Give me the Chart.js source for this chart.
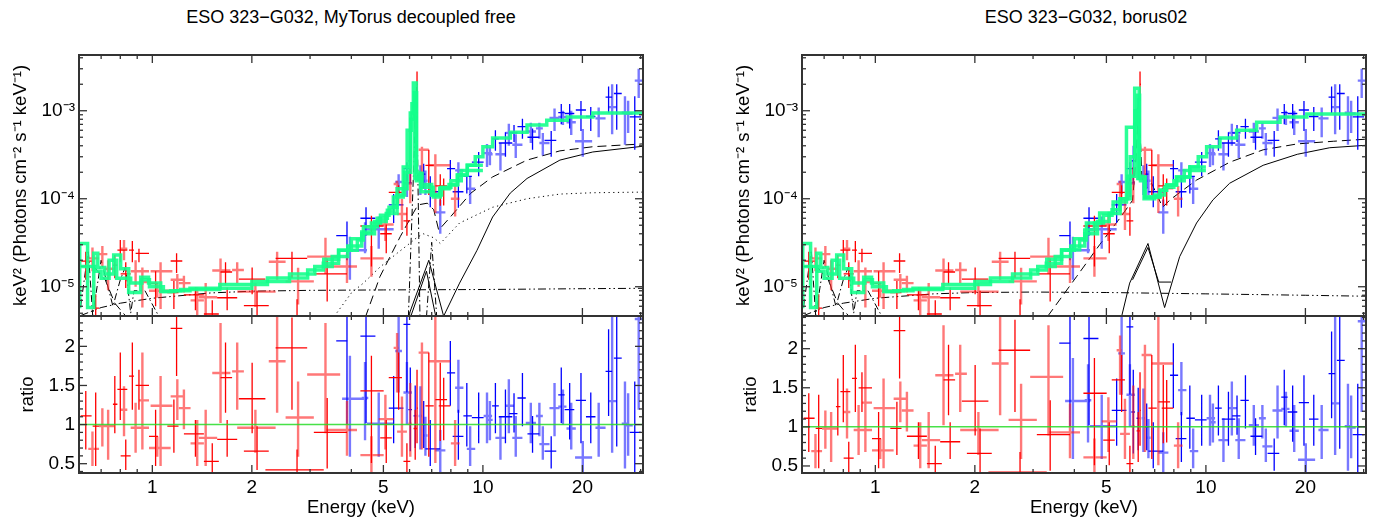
<!DOCTYPE html>
<html><head><meta charset="utf-8">
<script src="https://cdn.jsdelivr.net/npm/chart.js@4.4.1/dist/chart.umd.min.js"></script>
<style>
body{margin:0;background:#fff;width:1376px;height:527px;overflow:hidden;position:relative;font-family:"Liberation Sans",Arial,Helvetica,sans-serif}
canvas{position:absolute}
.title{position:absolute;top:7px;font-size:18px;white-space:nowrap;transform:translateX(-50%);color:#000}
</style></head><body>
<div class="title" style="left:351px">ESO 323−G032, MyTorus decoupled free</div>
<div class="title" style="left:1086px">ESO 323−G032, borus02</div>
<canvas id="c1" width="653" height="320" style="left:0;top:0"></canvas>
<canvas id="c2" width="653" height="215" style="left:0;top:312px"></canvas>
<canvas id="c3" width="653" height="320" style="left:723px;top:0"></canvas>
<canvas id="c4" width="653" height="215" style="left:723px;top:312px"></canvas>
<script>
// ---------- tick values / labels ----------
const energyTicks = [1, 2, 5, 10, 20];
const energyTickLabels = ['1', '2', '5', '10', '20'];
const energyMinor = [0.6, 0.7, 0.8, 0.9, 3, 4, 6, 7, 8, 9, 30];
const fluxTicks = [1e-5, 1e-4, 1e-3];
const fluxTickLabels = ['10⁻⁵', '10⁻⁴', '10⁻³'];
const fluxMinor = [5e-6,6e-6,7e-6,8e-6,9e-6,2e-5,3e-5,4e-5,5e-5,6e-5,7e-5,8e-5,9e-5,2e-4,3e-4,4e-4,5e-4,6e-4,7e-4,8e-4,9e-4,2e-3,3e-3,4e-3];
const ratioTicks = [0.5, 1, 1.5, 2];
const ratioTickLabels = ['0.5', '1', '1.5', '2'];
const ratioMinor = [0.4,0.6,0.7,0.8,0.9,1.1,1.2,1.3,1.4,1.6,1.7,1.8,1.9,2.1,2.2,2.3,2.4];

// ---------- red (soft X-ray) data ----------
const redE = [0.629,0.659,0.674,0.706,0.735,0.770,0.800,0.821,0.831,0.870,
 0.890,0.911,0.933,1.023,1.035,1.059,1.162,1.190,1.184,1.246,
 1.350,1.367,1.450,1.518,1.608,1.665,1.684,1.806,2.004,2.050,
 2.074,2.385,2.645,2.760,2.740,3.340,3.380,3.880,4.600,4.600,
 5.070,5.100,5.500,5.560,5.690,5.890,6.030,6.240,6.320,6.540,
 6.860,7.180,7.430,7.610,8.240];
const redElo = [0.607,0.640,0.660,0.690,0.715,0.760,0.784,0.802,0.802,0.850,
 0.860,0.890,0.911,0.977,0.977,0.988,1.110,1.136,1.136,1.203,
 1.246,1.305,1.383,1.432,1.518,1.608,1.571,1.743,1.827,1.806,
 1.892,2.250,2.360,2.530,2.198,2.940,3.080,3.340,4.260,4.260,
 4.840,4.890,5.370,5.190,5.500,5.750,5.950,6.170,6.290,6.390,
 6.700,6.860,7.180,7.350,8.000];
const redEhi = [0.655,0.690,0.690,0.731,0.766,0.784,0.840,0.840,0.860,0.880,
 0.977,0.977,0.977,1.040,1.136,1.150,1.200,1.246,1.232,1.305,
 1.432,1.432,1.571,1.589,1.723,1.743,1.806,1.892,2.198,2.360,
 2.250,2.530,2.940,3.080,3.300,3.700,3.880,4.160,5.010,5.010,
 5.370,5.300,5.560,5.690,5.890,6.030,6.100,6.290,6.360,6.860,
 7.100,7.970,7.790,7.970,8.500];
const redF = [1.95e-5,2.1e-5,5.7e-6,2.35e-5,1.6e-5,1.76e-5,2.6e-5,2.7e-5,1.4e-5,2.6e-5,
 1.5e-5,2.4e-5,1.13e-5,1.09e-5,9.0e-6,1.5e-5,8.6e-6,1.2e-5,1.96e-5,1.1e-5,
 8.1e-6,7.0e-6,7.6e-6,4.9e-6,1.53e-5,1.47e-5,7.5e-6,1.55e-5,1.22e-5,8.8e-6,
 6.1e-6,1.92e-5,2.1e-5,1.15e-5,4.5e-6,2.2e-5,1.4e-5,1.7e-5,2.1e-5,4.9e-5,
 5.1e-5,4.0e-5,1.47e-4,1.18e-4,6.7e-5,5.6e-5,1.5e-4,8.9e-4,2.0e-3,3.6e-4,
 2.4e-4,2.4e-4,1.4e-4,1.3e-4,1.0e-4];
const redFlo = [1.2e-5,1.5e-5,2.7e-6,1.7e-5,9.1e-6,1.25e-5,1.9e-5,2.0e-5,9.7e-6,1.9e-5,
 1.0e-5,1.9e-5,5.8e-6,6.0e-6,7.5e-6,5.6e-6,5.6e-6,9.3e-6,1.43e-5,8.6e-6,
 5.4e-6,4.3e-6,4.3e-6,3.5e-6,9.4e-6,1.06e-5,5.4e-6,1.1e-5,8.2e-6,5.9e-6,
 3.9e-6,1.2e-5,1.26e-5,6.3e-6,3.8e-6,1.4e-5,6.8e-6,1.1e-5,1.3e-5,1.7e-5,
 3.3e-5,2.4e-5,1.04e-4,8.8e-5,4.4e-5,3.8e-5,8.9e-5,5.2e-4,1.3e-3,1.3e-4,
 1.1e-4,6.9e-5,8.3e-5,8.4e-5,6.3e-5];
const redFhi = [2.5e-5,2.8e-5,8.2e-6,2.9e-5,2.0e-5,2.3e-5,3.4e-5,3.4e-5,1.9e-5,3.3e-5,
 2.0e-5,2.7e-5,1.65e-5,1.5e-5,1.09e-5,1.9e-5,1.16e-5,1.4e-5,2.4e-5,1.33e-5,
 9.8e-6,9.8e-6,1.1e-5,7.0e-6,2.1e-5,1.9e-5,9.8e-6,1.9e-5,1.65e-5,1.1e-5,
 9.0e-6,2.5e-5,2.5e-5,1.64e-5,7.2e-6,3.6e-5,2.1e-5,2.4e-5,2.9e-5,6.4e-5,
 6.6e-5,5.1e-5,1.6e-4,1.42e-4,1.0e-4,8.0e-5,2.3e-4,1.1e-3,2.8e-3,3.9e-4,
 3.6e-4,3.2e-4,1.9e-4,1.7e-4,1.4e-4];
const redR = [1.11,0.69,0.98,0.98,0.98,1.26,1.45,1.19,0.60,1.62,
 0.96,1.50,1.31,0.85,0.70,1.24,0.98,1.36,2.23,1.21,
 0.88,0.76,0.83,0.53,1.66,1.60,0.81,1.68,1.33,0.96,
 0.66,1.81,1.98,1.09,0.42,1.64,0.90,0.93,0.61,1.43,
 1.07,0.83,1.98,1.60,0.91,0.53,1.01,0.95,1.21,1.92,
 1.24,1.81,1.32,1.24,0.76];
const redRlo = [0.68,0.47,0.47,0.72,0.55,0.89,1.06,0.85,0.42,1.19,
 0.64,1.19,0.68,0.47,0.59,0.47,0.64,1.06,1.62,0.94,
 0.59,0.47,0.47,0.38,1.02,1.15,0.59,1.19,0.89,0.64,
 0.42,1.15,1.19,0.59,0.36,0.89,0.44,0.60,0.38,0.51,
 0.68,0.51,1.41,1.19,0.59,0.36,0.59,0.55,0.76,0.68,
 0.59,0.51,0.79,0.80,0.47];
const redRhi = [1.43,0.91,1.41,1.21,1.19,1.62,1.92,1.49,0.81,2.05,
 1.28,1.70,1.92,1.19,0.85,1.62,1.32,1.58,2.5,1.45,
 1.06,1.06,1.19,0.76,2.30,2.05,1.06,2.05,1.79,1.19,
 0.98,2.5,2.37,1.55,0.68,2.30,1.34,1.30,0.85,1.88,
 1.38,1.06,2.17,1.92,1.36,0.76,1.53,1.19,1.70,2.05,
 1.92,2.5,1.79,1.60,1.06];
const redInst = [0,1,0,1,1,0,0,1,0,0, 1,0,1,0,1,1,0,1,0,1, 0,1,1,0,1,0,0,1,0,1,
 0,1,0,1,0,1,0,1,1,0, 1,0,1,0,1,0,1,0,0,1, 0,1,0,0,1];

// ---------- blue (hard X-ray) data ----------
const blueE = [3.88,3.96,4.43,4.40,4.84,5.37,5.56,5.89,5.89,6.03,
 6.24,6.47,6.62,6.70,6.93,7.43,7.97,8.43,8.43,8.94,
 9.15,9.71,10.29,10.50,10.91,11.30,11.70,11.98,12.42,12.57,
 13.17,13.96,14.13,14.82,15.18,16.09,16.47,17.26,17.46,18.30,
 18.50,19.80,20.05,21.20,22.40,24.00,24.60,25.40,26.90,27.50,
 28.80,29.60];
const blueElo = [3.60,3.75,4.26,4.30,4.46,5.19,5.43,5.75,5.75,5.95,
 6.17,6.39,6.54,6.62,6.70,7.18,7.79,8.24,8.10,8.73,
 8.94,9.26,10.05,10.30,10.66,10.91,11.17,11.70,12.00,12.27,
 12.72,13.48,13.64,14.47,14.82,15.36,15.90,16.90,16.90,17.67,
 17.90,19.10,19.00,20.50,21.90,23.50,24.00,24.90,26.30,26.90,
 27.80,28.80];
const blueEhi = [3.90,4.46,4.73,4.50,5.37,5.75,5.69,6.03,6.10,6.10,
 6.29,6.54,6.70,6.80,7.43,7.70,8.24,8.73,8.73,9.26,
 9.48,10.05,10.66,10.70,11.17,11.70,12.27,12.42,12.72,13.17,
 13.48,14.47,14.82,15.18,15.90,16.67,17.06,17.67,17.90,18.90,
 19.10,20.50,21.40,21.90,23.50,24.60,25.40,26.30,27.50,28.40,
 30.10,30.50];
const blueF = [3.8e-5,2.6e-5,6.0e-5,4.0e-5,4.5e-5,8.5e-5,1.55e-4,2.2e-4,1.5e-4,2.7e-4,
 1.04e-3,1.8e-4,1.9e-4,1.6e-4,1.2e-4,7.0e-5,2.2e-4,2.1e-4,1.2e-4,1.8e-4,
 1.3e-4,2.6e-4,3.3e-4,3.2e-4,4.8e-4,3.2e-4,4.3e-4,5.6e-4,5.6e-4,4.1e-4,
 6.6e-4,5.8e-4,5.0e-4,6.3e-4,4.3e-4,4.6e-4,8.3e-4,9.5e-4,8.5e-4,9.3e-4,
 7.4e-4,1.02e-3,4.5e-4,8.6e-4,8.2e-4,1.43e-3,1.1e-3,1.57e-3,9.5e-4,9.3e-4,
 8.5e-4,2.2e-3];
const blueFlo = [2.0e-5,1.2e-5,3.8e-5,2.4e-5,2.7e-5,5.3e-5,1.13e-4,1.6e-4,1.05e-4,1.5e-4,
 6.6e-4,1.1e-4,1.3e-4,1.1e-4,8.0e-5,4.0e-5,1.65e-4,1.6e-4,7.9e-5,1.15e-4,
 8.7e-5,1.8e-4,2.3e-4,2.4e-4,3.5e-4,2.1e-4,3.0e-4,4.0e-4,4.4e-4,2.9e-4,
 4.8e-4,4.3e-4,3.6e-4,4.8e-4,3.1e-4,3.0e-4,5.9e-4,7.0e-4,6.9e-4,6.3e-4,
 5.3e-4,5.9e-4,3.0e-4,5.9e-4,5.0e-4,9.4e-4,5.4e-4,6.1e-4,4.1e-4,5.6e-4,
 3.6e-4,1.4e-3];
const blueFhi = [5.5e-5,3.7e-5,8.0e-5,5.4e-5,6.3e-5,1.13e-4,1.9e-4,2.6e-4,1.9e-4,4.0e-4,
 1.4e-3,2.4e-4,2.5e-4,2.1e-4,1.8e-4,9.8e-5,2.75e-4,2.6e-4,1.7e-4,2.4e-4,
 1.8e-4,3.4e-4,4.2e-4,3.9e-4,6.0e-4,4.3e-4,5.7e-4,7.1e-4,6.9e-4,5.4e-4,
 8.1e-4,7.3e-4,6.3e-4,7.3e-4,5.6e-4,5.9e-4,1.06e-3,1.19e-3,1.0e-3,1.19e-3,
 1.0e-3,1.29e-3,6.2e-4,1.1e-3,1.09e-3,1.89e-3,2.0e-3,2.0e-3,1.46e-3,1.3e-3,
 1.46e-3,3.0e-3];
const blueR = [2.07,1.33,2.13,1.34,1.01,1.21,1.94,2.28,1.41,1.19,
 1.11,1.11,1.00,0.86,0.69,0.67,1.66,1.47,0.85,1.11,
 0.69,1.09,1.11,1.06,1.24,0.83,1.10,1.24,1.14,0.83,
 1.34,1.02,0.88,1.11,0.75,0.66,1.21,1.38,1.23,1.19,
 0.95,1.31,0.58,1.10,0.96,1.68,1.30,1.85,1.01,0.99,
 0.90,2.35];
const blueRlo = [1.00,0.59,1.02,0.80,0.59,0.76,1.41,1.41,1.00,0.66,
 0.70,0.68,0.70,0.60,0.47,0.38,1.24,1.15,0.55,0.72,
 0.47,0.76,0.76,0.80,0.89,0.55,0.76,0.89,0.90,0.59,
 0.98,0.76,0.64,0.85,0.55,0.44,0.85,1.02,1.00,0.81,
 0.68,0.76,0.38,0.76,0.59,1.11,0.64,0.72,0.44,0.60,
 0.38,1.19];
const blueRhi = [2.5,1.88,2.5,1.80,1.41,1.62,2.5,2.5,1.80,1.73,
 1.50,1.49,1.30,1.10,1.06,0.93,2.07,1.83,1.19,1.53,
 0.98,1.41,1.41,1.30,1.53,1.11,1.45,1.58,1.40,1.11,
 1.66,1.28,1.11,1.28,0.98,0.85,1.53,1.73,1.45,1.53,
 1.28,1.66,0.79,1.41,1.28,2.22,2.5,2.5,1.55,1.40,
 1.55,2.5];
const blueInst = [0,1,0,1,1,0,1,0,1,0, 0,1,0,1,0,1,0,1,0,0, 1,0,1,1,0,1,0,1,0,1,
 0,1,0,1,1,0,1,0,1,0, 1,0,1,0,1,0,1,0,1,1, 0,1];

// ---------- MyTorus model (left) ----------
const mtAE = [0.603,0.637,0.665,0.684,0.718,0.764,0.802,0.848,0.922,0.974,1.06,1.136,1.218,1.6,2.23,2.95,3.29,3.66,4.17,4.35,4.79,5.14,5.36,5.74,6.03,6.16,6.29,6.33,6.47,7.08,7.43,7.97,8.36,8.97,9.48,10.0];
const mtAF = [1.76e-5,3.1e-5,5.8e-6,2.4e-5,1.65e-5,1.4e-5,2.3e-5,1.6e-5,8.6e-6,1.28e-5,1.1e-5,8.8e-6,9.0e-6,9.3e-6,1.06e-5,1.26e-5,1.55e-5,1.85e-5,2.6e-5,3.4e-5,4.8e-5,6.0e-5,7.4e-5,1.05e-4,2.3e-4,9.4e-4,2.07e-3,1.6e-4,1.9e-4,1.35e-4,1.05e-4,1.33e-4,1.43e-4,1.86e-4,2.4e-4,2.4e-4];
const mtCE = [0.603,0.64,0.67,0.70,0.74,0.78,0.82,0.86,0.93,0.98,1.08,1.17,1.30,2.0,2.6,3.1,3.5,3.9,4.3,4.7,5.1,5.5,5.9,6.1,6.22,6.34,6.5,7.0,7.5,8.0,8.6,9.2,10.0];
const mtCF = [5.7e-6,1.7e-5,1.7e-5,1.5e-5,1.25e-5,2.0e-5,1.25e-5,1.25e-5,1.1e-5,1.2e-5,1.0e-5,8.8e-6,9.0e-6,9.6e-6,1.15e-5,1.4e-5,1.7e-5,2.2e-5,2.9e-5,4.0e-5,5.5e-5,6.8e-5,1.3e-4,6.0e-4,1.2e-3,1.7e-4,1.75e-4,1.2e-4,1.1e-4,1.35e-4,1.6e-4,2.1e-4,2.1e-4];
const mtBE = [3.3,3.66,4.0,4.3,4.6,4.9,5.2,5.5,5.8,6.05,6.2,6.3,6.4,6.55,7.0,7.4,7.9,8.4,8.97,9.48,10.0,10.7,12.1,13.6,15.6,18.0,21.5,26.0,30.5];
const mtBF = [1.7e-5,2.05e-5,2.6e-5,3.5e-5,4.2e-5,5.3e-5,6.5e-5,8.0e-5,1.1e-4,2.0e-4,8.0e-4,1.6e-3,2.0e-4,1.95e-4,1.45e-4,1.1e-4,1.3e-4,1.45e-4,1.86e-4,2.4e-4,3.0e-4,3.9e-4,4.9e-4,5.7e-4,6.9e-4,7.8e-4,8.5e-4,9.4e-4,9.4e-4];
const mtDashE = [4.41,4.88,5.62,6.16,6.30,6.45,6.79,7.10,7.35,7.97,9.2,10.7,13.6,17.1,21.5,30.5];
const mtDashF = [4.5e-6,1.3e-5,3.7e-5,6.9e-5,8.0e-5,8.6e-5,8.9e-5,7.5e-5,4.4e-5,6.2e-5,1.16e-4,1.77e-4,2.75e-4,3.5e-4,3.9e-4,4.2e-4];
const mtSolidE = [7.6,8.5,9.6,10.7,12.1,13.6,17.1,21.5,30.5];
const mtSolidF = [4.6e-6,1.1e-5,2.6e-5,6.2e-5,1.16e-4,1.7e-4,2.75e-4,3.4e-4,3.95e-4];
const mtLineE = [5.95,6.86,7.61,null,6.05,6.75,7.2];
const mtLineF = [4.6e-6,2.0e-5,4.6e-6,null,4.6e-6,1.5e-5,4.6e-6];
const mtDotE = [3.55,4.0,4.35,4.88,5.5,6.0,6.3,6.6,7.1,7.43,8.5,10.7,13.6,17.1,21.5,30.5];
const mtDotF = [4.6e-6,8.5e-6,1.1e-5,1.67e-5,2.4e-5,3.1e-5,3.6e-5,4.0e-5,3.6e-5,3.1e-5,5.3e-5,8.0e-5,1.0e-4,1.13e-4,1.17e-4,1.19e-4];
const mtScatE = [0.607,0.7,0.8,1.0,1.5,2.0,3.0,5.0,10,20,30.5];
const mtScatF = [4.7e-6,5.8e-6,6.5e-6,7.4e-6,8.5e-6,8.9e-6,9.1e-6,9.2e-6,9.3e-6,9.5e-6,9.6e-6];
const mtSoftE = [0.607,0.66,0.72,0.77,0.85];
const mtSoftF = [1.7e-5,1.75e-5,1.2e-5,6.5e-6,4.2e-6];
const mtLinesE = [0.607,0.64,0.66,0.70,0.76,0.80,0.83,0.86,0.88,0.95,1.05,null,5.95,6.3,6.45,null,6.75,7.0,7.25];
const mtLinesF = [6.0e-6,2.6e-5,4.7e-6,2.0e-5,6e-6,1.2e-5,1.7e-5,5e-6,9e-6,9e-6,4.5e-6,null,4.5e-6,1.9e-3,4.5e-6,null,4.5e-6,3.2e-5,4.5e-6];

// ---------- borus02 model (right) ----------
const bzAE = [0.603,0.637,0.665,0.684,0.718,0.764,0.802,0.848,0.922,0.974,1.06,1.136,1.218,1.6,2.23,2.95,3.29,3.66,4.15,4.35,4.77,5.24,5.75,6.09,6.28,6.34,6.54,7.26,7.60,8.15,8.94,9.48,10.0];
const bzAF = [1.76e-5,3.1e-5,5.8e-6,2.4e-5,1.65e-5,1.4e-5,2.3e-5,1.6e-5,8.6e-6,1.28e-5,1.1e-5,8.8e-6,9.0e-6,9.3e-6,1.06e-5,1.26e-5,1.55e-5,1.85e-5,2.63e-5,3.4e-5,5.3e-5,6.9e-5,9.2e-5,6.5e-4,1.8e-3,1.7e-4,1.77e-4,1.05e-4,1.25e-4,1.43e-4,1.77e-4,2.3e-4,2.3e-4];
const bzCE = [0.603,0.64,0.67,0.70,0.74,0.78,0.82,0.86,0.93,0.98,1.08,1.17,1.30,2.0,2.6,3.1,3.5,3.9,4.3,4.7,5.1,5.5,5.9,6.1,6.22,6.34,6.5,7.0,7.5,8.0,8.6,9.2,10.0];
const bzCF = [5.7e-6,1.7e-5,1.7e-5,1.5e-5,1.25e-5,2.0e-5,1.25e-5,1.25e-5,1.1e-5,1.2e-5,1.0e-5,8.8e-6,9.0e-6,9.6e-6,1.15e-5,1.4e-5,1.7e-5,2.2e-5,2.9e-5,4.0e-5,5.5e-5,6.8e-5,1.0e-4,3.0e-4,1.0e-3,1.7e-4,1.6e-4,1.0e-4,1.1e-4,1.35e-4,1.6e-4,2.1e-4,2.1e-4];
const bzBE = [3.3,3.66,4.0,4.3,4.6,4.9,5.2,5.5,5.8,6.09,6.2,6.3,6.4,6.55,7.26,7.6,8.15,8.94,9.48,10.05,11.03,12.39,14.24,16.76,20.2,25.5,30.5];
const bzBF = [1.7e-5,2.05e-5,2.6e-5,3.5e-5,4.4e-5,5.3e-5,6.5e-5,7.5e-5,1.0e-4,1.8e-4,7.0e-4,1.5e-3,1.8e-4,1.77e-4,1.05e-4,1.25e-4,1.43e-4,1.77e-4,2.3e-4,3.0e-4,3.9e-4,4.9e-4,6.0e-4,7.4e-4,8.5e-4,9.2e-4,9.2e-4];
const bzDashE = [3.32,4.06,4.77,5.49,6.0,6.15,6.25,6.35,6.4,6.53,6.85,7.4,7.78,9.37,11.8,14.9,18.9,24.3,30.5];
const bzDashF = [4.6e-6,1.3e-5,3.0e-5,6.0e-5,9.6e-5,3.0e-4,1.0e-3,4.0e-4,1.76e-4,1.25e-4,1.5e-4,8.0e-5,9.7e-5,1.63e-4,2.6e-4,3.6e-4,4.2e-4,4.5e-4,4.75e-4];
const bzSolidE = [5.56,5.88,6.68,7.5,8.33,9.37,10.5,11.8,14.9,18.9,23.7,30.5,null,6.0,6.68,7.2,7.85];
const bzSolidF = [4.6e-6,1.1e-5,3.1e-5,5.8e-6,2.2e-5,5.3e-5,9.7e-5,1.5e-4,2.4e-4,3.2e-4,3.8e-4,4.05e-4,null,1.2e-5,2.8e-5,1.13e-5,1.13e-5];
const bzScatE = [0.607,0.7,0.8,1.0,1.5,2.0,3.0,5.0,10,20,30.5];
const bzScatF = [4.7e-6,5.8e-6,6.5e-6,7.4e-6,8.3e-6,8.6e-6,8.7e-6,8.6e-6,8.3e-6,8.0e-6,7.8e-6];
const bzSoftE = [0.607,0.66,0.72,0.77,0.85];
const bzSoftF = [1.7e-5,1.75e-5,1.2e-5,6.5e-6,4.2e-6];
const bzLinesE = [0.607,0.64,0.66,0.70,0.76,0.80,0.83,0.86,0.88,0.95,1.05];
const bzLinesF = [6.0e-6,2.6e-5,4.7e-6,2.0e-5,6e-6,1.2e-5,1.7e-5,5e-6,9e-6,9e-6,4.5e-6];

const unityE = [0.6, 30.5];
const unityR = [1, 1];

// ---------- helpers ----------
Chart.defaults.font.family = '"Liberation Sans", Arial, Helvetica, sans-serif';
Chart.defaults.color = '#000';

function crosses(E, Elo, Ehi, V, Vlo, Vhi, inst, which) {
  const pts = [];
  for (let i = 0; i < E.length; i++) {
    if (inst[i] !== which) continue;
    pts.push({x: Elo[i], y: V[i]}, {x: Ehi[i], y: V[i]}, {x: Ehi[i], y: null},
             {x: E[i], y: Vlo[i]}, {x: E[i], y: Vhi[i]}, {x: E[i], y: null});
  }
  return pts;
}
function pts(E, F) { return E.map((e, i) => ({x: e === null ? 1 : e, y: F[i]})); }
function lineDs(data, color, w, dash, stepped) {
  return {data, borderColor: color, borderWidth: w, borderDash: dash || [], stepped: stepped || false,
          pointRadius: 0, fill: false, spanGaps: false, tension: 0};
}
const GREEN = 'rgba(20,255,140,0.9)';
const DASH = [9, 5], DOT = [1.2, 3.5], DASHDOT = [7, 3, 1.5, 3], DASHDOTDOT = [8, 3, 1.5, 3, 1.5, 3];

const framePlugin = {
  id: 'frame',
  afterDraw(chart, args, o) {
    const {ctx, chartArea: a} = chart;
    const xs = chart.scales.x, ys = chart.scales.y;
    ctx.save();
    ctx.strokeStyle = '#333';
    ctx.lineWidth = 1.3;
    const seg = (x1, y1, x2, y2) => { ctx.beginPath(); ctx.moveTo(x1, y1); ctx.lineTo(x2, y2); ctx.stroke(); };
    const xt = (vals, len) => vals.forEach(v => {
      const p = xs.getPixelForValue(v);
      if (p < a.left - 0.5 || p > a.right + 0.5) return;
      seg(p, a.top, p, a.top + len); seg(p, a.bottom, p, a.bottom - len);
    });
    const yt = (vals, len) => vals.forEach(v => {
      const p = ys.getPixelForValue(v);
      if (p < a.top - 0.5 || p > a.bottom + 0.5) return;
      seg(a.left, p, a.left + len, p); seg(a.right, p, a.right - len, p);
    });
    xt(o.xMajor, 8); xt(o.xMinor, 4); yt(o.yMajor, 8); yt(o.yMinor, 4);
    ctx.lineWidth = 2;
    ctx.strokeRect(a.left, a.top, a.right - a.left, a.bottom - a.top);
    ctx.restore();
  }
};

function noPad(s) { s.paddingTop = 0; s.paddingBottom = 0; s.paddingLeft = 0; s.paddingRight = 0; }

function xScale(show) {
  return {
    type: 'logarithmic', min: 0.6, max: 30.5, display: show,
    afterBuildTicks: s => { s.ticks = energyTicks.map(v => ({value: v})); },
    afterFit: s => { noPad(s); if (show) s.height = 54; },
    grid: {display: false, drawTicks: false}, border: {display: false},
    ticks: {callback: (v, i) => energyTickLabels[i], font: {size: 19}, padding: 3, autoSkip: false, maxRotation: 0},
    title: {display: true, text: 'Energy (keV)', font: {size: 18.5}, padding: {top: 0, bottom: 8}}
  };
}

function topChart(id, models, comps) {
  const datasets = [];
  models.forEach(m => datasets.push(lineDs(pts(m[0], m[1]), GREEN, 3.5, [], 'after')));
  datasets.push(lineDs(crosses(redE, redElo, redEhi, redF, redFlo, redFhi, redInst, 0), '#ff0000', 1.3));
  datasets.push(lineDs(crosses(redE, redElo, redEhi, redF, redFlo, redFhi, redInst, 1), 'rgba(255,30,30,0.6)', 2.4));
  datasets.push(lineDs(crosses(blueE, blueElo, blueEhi, blueF, blueFlo, blueFhi, blueInst, 0), '#0000ff', 1.3));
  datasets.push(lineDs(crosses(blueE, blueElo, blueEhi, blueF, blueFlo, blueFhi, blueInst, 1), 'rgba(30,30,255,0.6)', 2.4));
  comps.forEach(c => datasets.push(lineDs(pts(c[0], c[1]), '#000', 1, c[2])));
  new Chart(document.getElementById(id), {
    type: 'line',
    data: {datasets},
    plugins: [framePlugin],
    options: {
      responsive: false, animation: false, devicePixelRatio: 1, events: [],
      layout: {padding: {top: 55, bottom: 4, left: 0, right: 10}},
      plugins: {legend: {display: false}, tooltip: {enabled: false},
        frame: {xMajor: energyTicks, xMinor: energyMinor, yMajor: fluxTicks, yMinor: fluxMinor}},
      scales: {
        x: xScale(false),
        y: {
          type: 'logarithmic', min: 4.65e-6, max: 4.3e-3,
          afterBuildTicks: s => { s.ticks = fluxTicks.map(v => ({value: v})); },
          afterFit: s => { noPad(s); s.width = 79; },
          grid: {display: false, drawTicks: false}, border: {display: false},
          ticks: {callback: (v, i) => fluxTickLabels[i], font: {size: 19}, padding: 4, autoSkip: false},
          title: {display: true, text: 'keV² (Photons cm⁻² s⁻¹ keV⁻¹)', font: {size: 18.5}, padding: {top: 10, bottom: 0}}
        }
      }
    }
  });
}

function ratioChart(id, rmin, rmax) {
  const datasets = [
    lineDs(pts(unityE, unityR), 'rgba(40,220,40,0.85)', 1.5),
    lineDs(crosses(redE, redElo, redEhi, redR, redRlo, redRhi, redInst, 0), '#ff0000', 1.3),
    lineDs(crosses(redE, redElo, redEhi, redR, redRlo, redRhi, redInst, 1), 'rgba(255,30,30,0.6)', 2.4),
    lineDs(crosses(blueE, blueElo, blueEhi, blueR, blueRlo, blueRhi, blueInst, 0), '#0000ff', 1.3),
    lineDs(crosses(blueE, blueElo, blueEhi, blueR, blueRlo, blueRhi, blueInst, 1), 'rgba(30,30,255,0.6)', 2.4)
  ];
  new Chart(document.getElementById(id), {
    type: 'line',
    data: {datasets},
    plugins: [framePlugin],
    options: {
      responsive: false, animation: false, devicePixelRatio: 1, events: [],
      layout: {padding: {top: 4, bottom: 0, left: 0, right: 10}},
      plugins: {legend: {display: false}, tooltip: {enabled: false},
        frame: {xMajor: energyTicks, xMinor: energyMinor, yMajor: ratioTicks, yMinor: ratioMinor}},
      scales: {
        x: xScale(true),
        y: {
          type: 'linear', min: rmin, max: rmax,
          afterBuildTicks: s => { s.ticks = ratioTicks.map(v => ({value: v})); },
          afterFit: s => { noPad(s); s.width = 79; },
          grid: {display: false, drawTicks: false}, border: {display: false},
          ticks: {callback: (v, i) => ratioTickLabels[i], font: {size: 19}, padding: 4, autoSkip: false},
          title: {display: true, text: 'ratio', font: {size: 18.5}, padding: {top: 17, bottom: 0}}
        }
      }
    }
  });
}

topChart('c1', [[mtAE, mtAF], [mtCE, mtCF], [mtBE, mtBF]], [
  [mtDashE, mtDashF, DASH], [mtSolidE, mtSolidF, []], [mtLineE, mtLineF, []],
  [mtDotE, mtDotF, DOT], [mtScatE, mtScatF, DASHDOTDOT], [mtSoftE, mtSoftF, DASH],
  [mtLinesE, mtLinesF, DASHDOT]
]);
ratioChart('c2', 0.381, 2.388);
topChart('c3', [[bzAE, bzAF], [bzCE, bzCF], [bzBE, bzBF]], [
  [bzDashE, bzDashF, DASH], [bzSolidE, bzSolidF, []], [bzScatE, bzScatF, DASHDOTDOT],
  [bzSoftE, bzSoftF, DASH], [bzLinesE, bzLinesF, DASHDOT]
]);
ratioChart('c4', 0.41, 2.418);
</script>
</body></html>
